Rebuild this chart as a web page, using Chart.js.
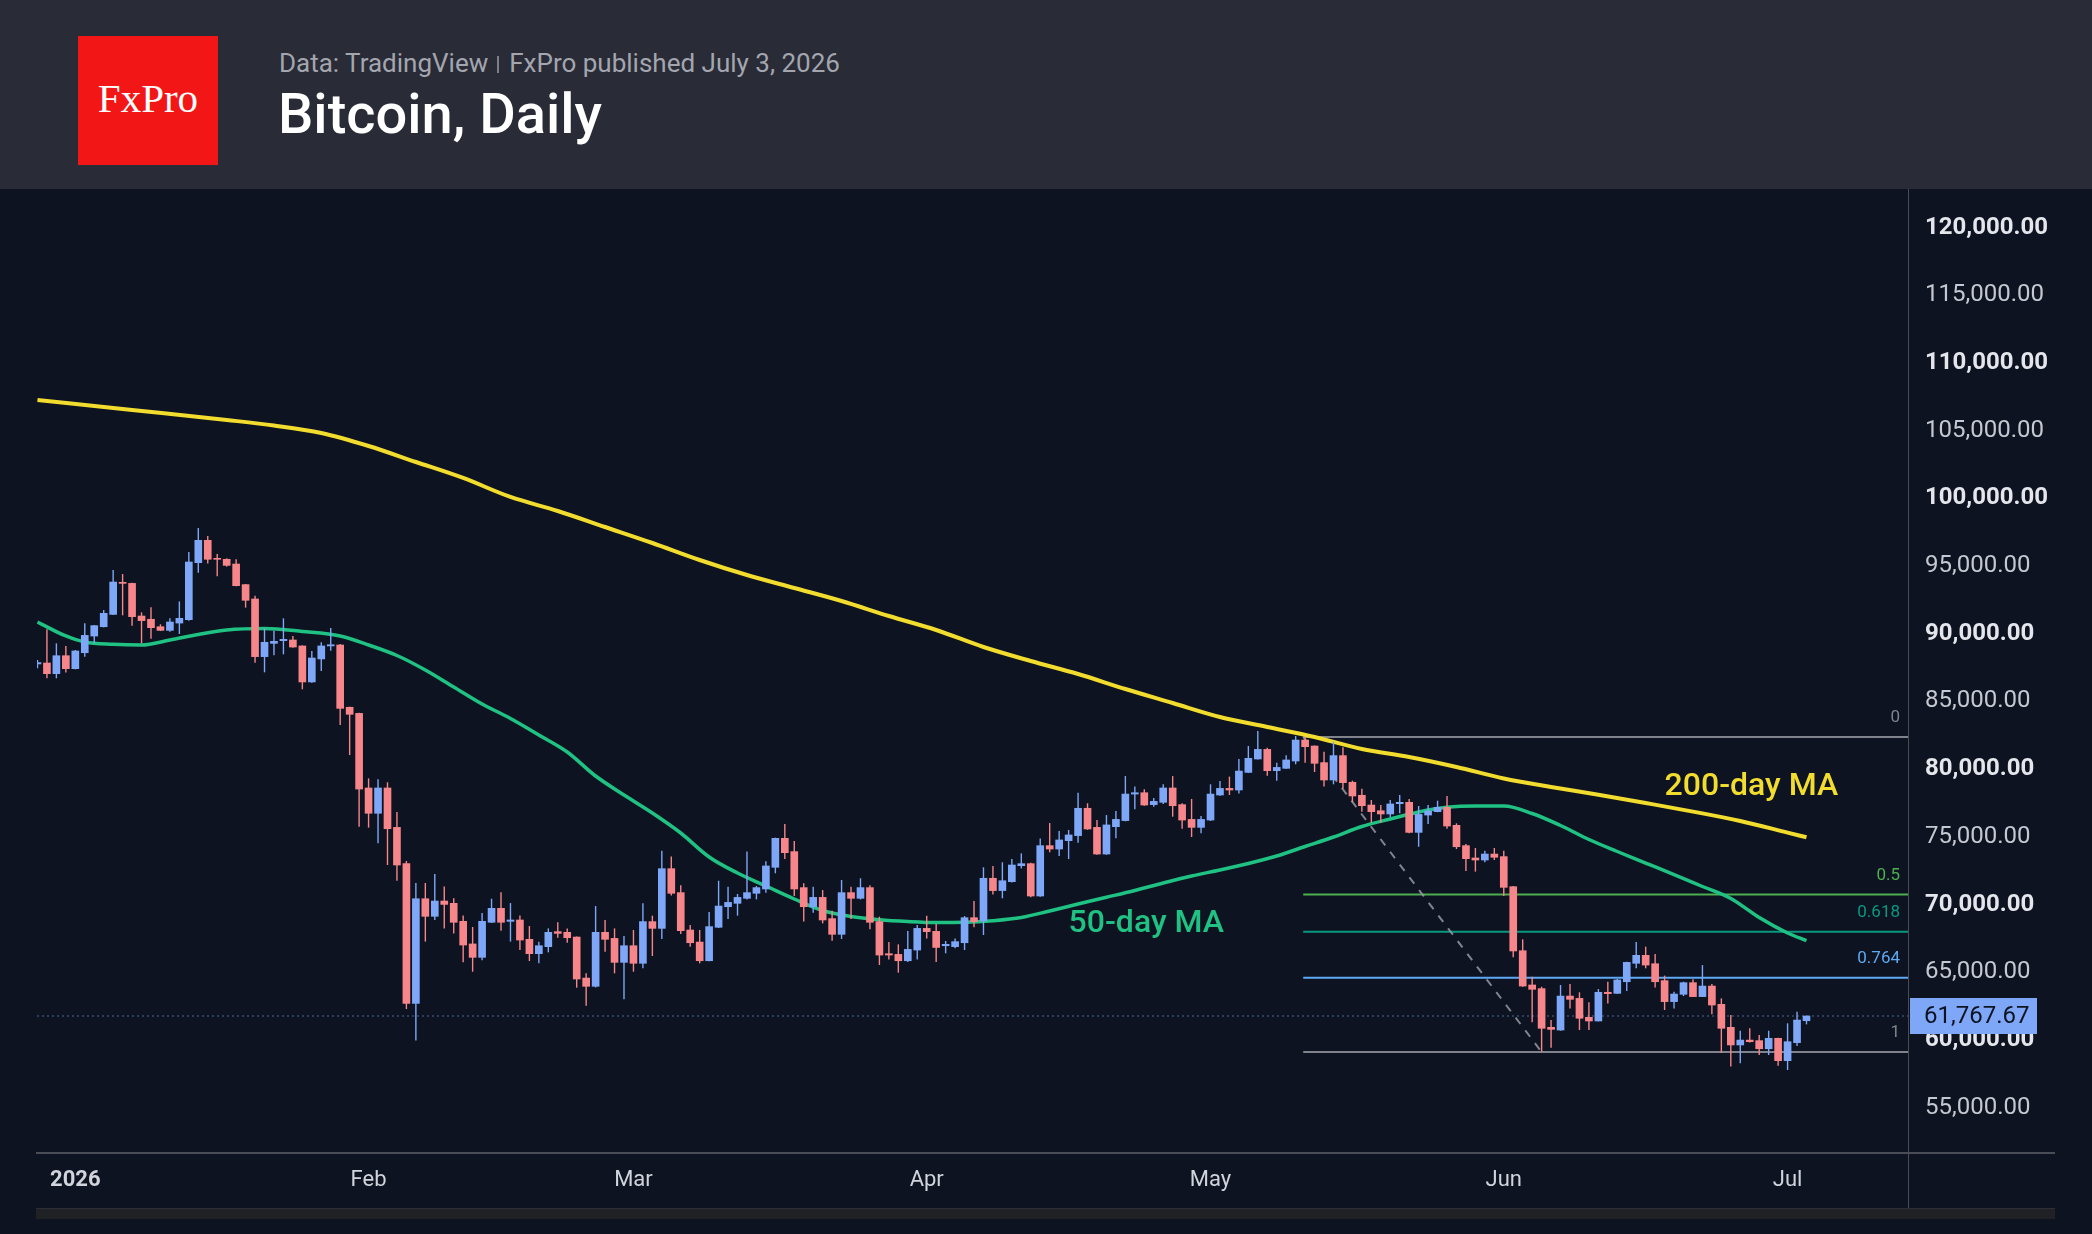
<!DOCTYPE html>
<html>
<head>
<meta charset="utf-8">
<script src="https://cdn.jsdelivr.net/npm/chart.js@4.4.1/dist/chart.umd.min.js"></script>
<style>
  html, body { margin: 0; padding: 0; width: 2092px; height: 1234px; overflow: hidden; background: #0d1320; font-family: Roboto, sans-serif; }
  #header { position: absolute; left: 0; top: 0; width: 2092px; height: 189px; background: #292b36; }
  #logo { position: absolute; left: 78px; top: 36px; width: 140px; height: 129px; background: #f31616; color: #fff;
          font-family: "Liberation Serif", serif; font-size: 41px; line-height: 124px; text-align: center; }
  #source { position: absolute; left: 279px; top: 50px; font-size: 26px; line-height: 1; color: #a3a6af; white-space: nowrap; }
  #source .sep { display: inline-block; width: 2px; height: 17px; background: #7d8089; margin: 0 10px 0 9px; vertical-align: -1px; }
  #title { position: absolute; left: 278px; top: 86px; font-size: 56px; line-height: 1; font-weight: 500; color: #fff; white-space: nowrap; }
  #wrap { position: absolute; left: 0; top: 189px; width: 2092px; height: 1045px; }
</style>
</head>
<body>
<div id="header">
  <div id="logo">FxPro</div>
  <div id="source">Data: TradingView<span class="sep"></span>FxPro published July 3, 2026</div>
  <div id="title">Bitcoin, Daily</div>
</div>
<div id="wrap"><canvas id="chart" width="2092" height="1045"></canvas></div>
<script>
// days are counted from 2026-01-01, first candle is 2025-12-28
const startDay = -4;

const opens = [
  87770, 87840, 87050, 88380, 87420, 88600, 89830, 90520, 91430, 93800,
  93720, 91310, 91070, 90520, 90250, 90790, 91040, 95250, 96900, 95570,
  95500, 95150, 93630, 92570, 88310, 89290, 89490, 89540, 89100, 86440,
  88140, 89100, 89170, 84570, 84120, 78610, 76740, 78610, 75700, 73020,
  62700, 70430, 69130, 70260, 70090, 68760, 67090, 66100, 68690, 69720,
  68760, 68860, 67430, 66370, 66890, 68000, 67950, 67600, 64570, 63960,
  67950, 67500, 65730, 66960, 65660, 68740, 68240, 72650, 70880, 68120,
  67230, 65850, 68320, 69840, 70090, 70460, 70830, 71150, 72750, 74890,
  73910, 71250, 69840, 70530, 68960, 67800, 70880, 70460, 71250, 68740,
  66370, 66320, 65850, 66640, 68240, 68020, 66960, 66890, 67180, 69030,
  68780, 71940, 71030, 71690, 72870, 73020, 70630, 74350, 74100, 74720,
  75090, 77110, 75700, 73730, 75750, 76200, 78160, 78260, 77380, 77550,
  78610, 77380, 76290, 75700, 76240, 78090, 78580, 78460, 79760, 80750,
  81460, 79890, 80060, 80600, 82150, 81710, 80480, 79200, 81000, 79030,
  78070, 77350, 76930, 76690, 77450, 77550, 75330, 76610, 76860, 77180,
  75850, 74350, 73440, 73290, 73730, 73540, 71320, 66590, 64060, 63790,
  60930, 60730, 63240, 63070, 61670, 61400, 63520, 63440, 64300, 65660,
  66250, 65630, 64380, 62830, 63370, 64230, 63200, 63980, 62630, 60930,
  59630, 59990, 59950, 59350, 60120, 58470, 59800, 61420
];
const highs = [
  88060, 90330, 89290, 89100, 88800, 90770, 90650, 91750, 94710, 94410,
  93770, 91580, 91950, 90700, 91140, 92390, 96040, 97810, 97220, 95890,
  95570, 95500, 93680, 92810, 90400, 90230, 91140, 89830, 89140, 88730,
  89370, 90430, 89240, 84610, 84170, 79320, 79250, 79030, 76830, 73220,
  71590, 71590, 72260, 71340, 70460, 69200, 68340, 69370, 70430, 70900,
  70110, 69200, 68410, 67260, 68240, 68690, 68240, 67640, 64920, 69890,
  68860, 68240, 67680, 68120, 70090, 69180, 73980, 73540, 71420, 68490,
  68120, 69450, 71760, 71320, 70780, 73910, 71370, 73190, 74940, 75950,
  74690, 71570, 71320, 71070, 69550, 71810, 71320, 71940, 71420, 69100,
  67230, 67060, 68050, 68490, 69180, 68560, 67310, 67500, 69150, 70260,
  72750, 72850, 73120, 73360, 73780, 73090, 74870, 76020, 75430, 75510,
  78260, 77480, 76240, 76610, 76910, 79490, 78710, 78510, 77870, 78880,
  79490, 77480, 77800, 76540, 78880, 79130, 79450, 80750, 81710, 82820,
  81590, 80480, 81020, 82450, 82350, 81750, 81290, 82030, 81610, 79150,
  78560, 77720, 77350, 77720, 78090, 77800, 77280, 77350, 77670, 78020,
  76000, 74470, 74180, 73980, 74180, 73980, 71370, 67430, 64670, 63930,
  61470, 64060, 64130, 63520, 62780, 63760, 64300, 64500, 65770, 67230,
  66890, 66350, 64750, 63560, 64300, 64480, 65530, 64130, 63070, 61840,
  60680, 60860, 60360, 60680, 60170, 61230, 62090, 61800
];
const lows = [
  87450, 86710, 86710, 87130, 87370, 88310, 89290, 90470, 91390, 91360,
  90600, 89290, 89640, 90200, 90150, 89980, 90970, 94510, 95180, 94240,
  94960, 93500, 91930, 87860, 87150, 88410, 88480, 88970, 85900, 86390,
  87250, 88750, 83260, 81040, 75750, 75680, 74520, 72920, 71760, 62280,
  59950, 67260, 68860, 68240, 67870, 65730, 65040, 65880, 68640, 68070,
  67260, 66640, 65830, 65660, 66470, 67550, 67180, 63860, 62530, 63880,
  66520, 64920, 63000, 65040, 65290, 66200, 67460, 70660, 67820, 66890,
  65660, 65820, 68270, 68930, 69180, 70380, 70380, 70880, 72310, 73360,
  70630, 68740, 69400, 68610, 67330, 67460, 68930, 70380, 68170, 65540,
  65950, 64970, 65760, 65950, 67500, 65760, 66400, 66770, 66640, 68320,
  67750, 70750, 70460, 71620, 72670, 70530, 70580, 73860, 73590, 73360,
  74570, 75520, 73670, 73670, 74890, 76150, 77030, 77300, 77230, 77430,
  76490, 75600, 74990, 75260, 76170, 78040, 78090, 78210, 79720, 80720,
  79520, 79150, 80020, 80360, 80480, 79790, 78710, 78880, 78580, 77550,
  76860, 76050, 76050, 76440, 76740, 75270, 74270, 75950, 76820, 75600,
  74100, 72480, 72430, 73120, 73290, 70630, 66100, 63920, 61300, 59130,
  59430, 60680, 62330, 60730, 60730, 61370, 62700, 63420, 63610, 65290,
  65290, 63880, 62210, 62330, 63240, 63170, 63170, 61890, 59060, 58030,
  58270, 59820, 58890, 58890, 58100, 57780, 59550, 61150
];
const closes = [
  87870, 87050, 88380, 87420, 88730, 89880, 90600, 91510, 93820, 93720,
  91260, 90970, 90450, 90250, 90870, 91140, 95300, 96900, 95500, 95500,
  95050, 93550, 92470, 88310, 89370, 89440, 89590, 89020, 86440, 88210,
  89100, 89190, 84490, 84050, 78530, 76740, 78610, 75600, 72920, 62700,
  70430, 69130, 70260, 70010, 68690, 67010, 66100, 68760, 69720, 68690,
  68860, 67380, 66370, 66960, 67950, 67870, 67550, 64500, 63960, 67950,
  67430, 65730, 66960, 65660, 68740, 68240, 72650, 70830, 68070, 67180,
  65850, 68370, 69890, 70160, 70530, 70880, 71250, 72850, 74890, 73830,
  71150, 69840, 70530, 68860, 67800, 70880, 70460, 71250, 68690, 66270,
  66270, 65850, 66690, 68240, 68000, 66830, 67060, 67260, 69030, 68740,
  71940, 71030, 71760, 72920, 73020, 70630, 74350, 74100, 74770, 75140,
  77110, 75580, 73730, 75880, 76290, 78160, 78260, 77350, 77620, 78610,
  77300, 76240, 75700, 76290, 78160, 78580, 78460, 79860, 80800, 81460,
  79890, 80130, 80680, 82150, 81660, 80430, 79200, 81000, 79000, 78020,
  77300, 76860, 76690, 77430, 77550, 75330, 76660, 76910, 77180, 75800,
  74270, 73390, 73290, 73730, 73490, 71270, 66570, 63980, 63740, 60860,
  60780, 63240, 63000, 61600, 61400, 63520, 63420, 64430, 65730, 66250,
  65530, 64300, 62830, 63390, 64230, 63200, 63980, 62580, 60860, 59630,
  59990, 59870, 59350, 60120, 58470, 59870, 61470, 61767.67
];

const ma200Days = [-4, 6, 16, 21, 26, 31, 36, 41, 46, 51, 56, 61, 66, 71, 76, 81, 86, 91, 96,
  101, 106, 111, 116, 121, 126, 131, 136, 141, 146, 151, 156, 161, 166, 171, 176, 181, 183];
const ma200Values = [107266, 106527, 105789, 105383, 104829, 103869, 102687, 101505, 100102, 99068,
  97886, 96704, 95448, 94340, 93380, 92420, 91312, 90278, 89023, 87989, 87028, 85920, 84886,
  83852, 83114, 82375, 81489, 80898, 80160, 79310, 78682, 78113, 77500, 76865, 76171, 75314, 74967];

const ma50Days = [-4, -1, 1, 4, 7, 10, 13, 16, 20, 24, 28, 31, 34, 37, 40, 43, 46, 49, 52, 55,
  58, 61, 64, 67, 70, 73, 76, 79, 82, 85, 88, 91, 94, 97, 100, 103, 106, 109, 112, 115,
  118, 121, 124, 127, 130, 133, 136, 139, 142, 145, 148, 151, 154, 157, 160, 163, 166, 169,
  172, 175, 178, 181, 183];
const ma50Values = [90869, 89835, 89392, 89222, 89171, 89540, 89946, 90278, 90389, 90168,
  89835, 89171, 88395, 87324, 86068, 84813, 83742, 82523, 81267, 79494,
  78091, 76762, 75284, 73512, 72330, 71370, 70410, 69560, 69117, 68881,
  68748, 68674, 68689, 68807, 69043, 69523, 70040, 70535, 71037, 71591,
  72108, 72551, 73031, 73585, 74287, 74988, 75764, 76318, 76835, 77182,
  77278, 77278, 76724, 75838, 74804, 73918, 73068, 72219, 71333, 70446,
  69043, 67898, 67330];

const monthTicks = [0, 31, 59, 90, 120, 151, 181];
const monthLabels = ["2026", "Feb", "Mar", "Apr", "May", "Jun", "Jul"];
const priceTicks = [55000, 60000, 65000, 70000, 75000, 80000, 85000, 90000, 95000,
  100000, 105000, 110000, 115000, 120000];
const lastPrice = 61767.67;

// fibonacci retracement drawn from the May high to the June low
const fibHigh = 82380;
const fibLow = 59110;
const fibStartDay = 129.8;
const fibEndDay = 155;
const fibRatios = [0, 0.5, 0.618, 0.764, 1];
const fibColors = ["#80838b", "#4caf50", "#089981", "#5ea9f3", "#80838b"];

const xMin = -4.05;
const xMax = 193.73;
const UP = "#7ea7f8";
const DOWN = "#f7868a";

const days = closes.map((c, i) => startDay + i);
const candleColors = closes.map((c, i) => (c >= opens[i] ? UP : DOWN));

const isMajor = (c) => !!(c.tick && c.tick.value % 10000 === 0);

const fibSets = fibRatios.map((r, i) => {
  const level = fibHigh - r * (fibHigh - fibLow);
  return {
    type: "line",
    data: [{ x: fibStartDay, y: level }, { x: xMax, y: level }],
    borderColor: fibColors[i],
    borderWidth: 2,
    pointRadius: 0,
    clip: 0,
    order: 5,
  };
});

const overlay = {
  id: "overlay",
  afterDatasetsDraw(chart) {
    const ctx = chart.ctx;
    const xs = chart.scales.x;
    const ys = chart.scales.y;
    const area = chart.chartArea;
    ctx.save();
    // fib level captions
    ctx.font = "17px Roboto";
    ctx.textAlign = "right";
    ctx.textBaseline = "middle";
    fibRatios.forEach((r, i) => {
      const level = fibHigh - r * (fibHigh - fibLow);
      ctx.fillStyle = fibColors[i];
      ctx.fillText(String(r), area.right - 8, ys.getPixelForValue(level) - 19);
    });
    // moving average captions
    ctx.textAlign = "left";
    ctx.textBaseline = "alphabetic";
    ctx.font = "500 32px Roboto";
    ctx.fillStyle = "#f2dc2e";
    ctx.fillText("200-day MA", xs.getPixelForValue(168), ys.getPixelForValue(78091));
    ctx.fillStyle = "#1fc282";
    ctx.fillText("50-day MA", xs.getPixelForValue(105), ys.getPixelForValue(67995));
    ctx.restore();
  },
  afterDraw(chart) {
    const ctx = chart.ctx;
    const ys = chart.scales.y;
    const area = chart.chartArea;
    ctx.save();
    // axis frame
    ctx.fillStyle = "#4a4d56";
    ctx.fillRect(36, area.bottom - 1, 2019, 2);
    ctx.fillRect(area.right, 0, 1, 1020);
    // scroll bar strip
    ctx.fillStyle = "#202124";
    ctx.fillRect(36, 1020, 2019, 10);
    ctx.fillStyle = "#2c2f37";
    ctx.fillRect(36, 1019, 2019, 1);
    // last price tag
    const py = ys.getPixelForValue(lastPrice);
    ctx.fillStyle = UP;
    ctx.fillRect(area.right + 2, py - 18, 127, 36);
    ctx.fillStyle = "#0d1320";
    ctx.font = "24px Roboto";
    ctx.textAlign = "left";
    ctx.textBaseline = "middle";
    ctx.fillText(lastPrice.toLocaleString("en-US", { minimumFractionDigits: 2 }), area.right + 16, py + 1);
    ctx.restore();
  },
};

const ctx = document.getElementById("chart").getContext("2d");
new Chart(ctx, {
  type: "bar",
  data: {
    datasets: [
      {
        data: days.map((d, i) => ({ x: d, y: [opens[i], closes[i]] })),
        backgroundColor: candleColors,
        barThickness: 7,
        grouped: false,
        clip: 0,
        order: 0,
      },
      {
        data: days.map((d, i) => ({ x: d, y: [lows[i], highs[i]] })),
        backgroundColor: candleColors,
        barThickness: 1.4,
        inflateAmount: 0,
        grouped: false,
        clip: 0,
        order: 1,
      },
      {
        type: "line",
        data: ma200Days.map((d, i) => ({ x: d, y: ma200Values[i] })),
        borderColor: "#f2dc2e",
        borderWidth: 4,
        pointRadius: 0,
        cubicInterpolationMode: "monotone",
        clip: 0,
        order: 2,
      },
      {
        type: "line",
        data: ma50Days.map((d, i) => ({ x: d, y: ma50Values[i] })),
        borderColor: "#1fc282",
        borderWidth: 3.5,
        pointRadius: 0,
        cubicInterpolationMode: "monotone",
        clip: 0,
        order: 3,
      },
      {
        type: "line",
        data: [{ x: fibStartDay, y: fibHigh }, { x: fibEndDay, y: fibLow }],
        borderColor: "rgba(150,153,162,0.85)",
        borderWidth: 2,
        borderDash: [8, 8],
        pointRadius: 0,
        clip: 0,
        order: 4,
      },
      ...fibSets,
      {
        type: "line",
        data: [{ x: xMin, y: lastPrice }, { x: xMax, y: lastPrice }],
        borderColor: "#4f6a9a",
        borderWidth: 1.2,
        borderDash: [2, 3],
        pointRadius: 0,
        clip: 0,
        order: 6,
      },
    ],
  },
  options: {
    responsive: false,
    animation: false,
    devicePixelRatio: 1,
    layout: { padding: { left: 37, top: 1, right: 0, bottom: 0 } },
    plugins: { legend: { display: false }, tooltip: { enabled: false } },
    scales: {
      x: {
        type: "linear",
        min: xMin,
        max: xMax,
        bounds: "data",
        offset: false,
        grid: { display: false, drawTicks: false },
        border: { display: false },
        afterBuildTicks: (s) => {
          s.ticks = monthTicks.map((v) => ({ value: v }));
        },
        afterFit: (s) => {
          s.height = 81;
          s.paddingLeft = 0;
          s.paddingRight = 0;
        },
        ticks: {
          autoSkip: false,
          maxRotation: 0,
          padding: 14,
          color: "#d1d4dc",
          font: (c) => ({ family: "Roboto", size: 22, weight: c.index === 0 ? "bold" : "normal" }),
          callback: (v, i) => monthLabels[i],
        },
      },
      y: {
        position: "right",
        min: 51650,
        max: 122775,
        bounds: "data",
        grid: { display: false, drawTicks: false },
        border: { display: false },
        afterBuildTicks: (s) => {
          s.ticks = priceTicks.map((v) => ({ value: v }));
        },
        afterFit: (s) => {
          s.width = 184;
          s.paddingTop = 0;
          s.paddingBottom = 0;
        },
        ticks: {
          autoSkip: false,
          padding: 17,
          color: (c) => (isMajor(c) ? "#e4e6ec" : "#c5c8d0"),
          font: (c) => ({ family: "Roboto", size: 24, weight: isMajor(c) ? "bold" : "normal" }),
          callback: (v) => v.toLocaleString("en-US", { minimumFractionDigits: 2, maximumFractionDigits: 2 }),
        },
      },
    },
  },
  plugins: [overlay],
});
</script>
</body>
</html>
